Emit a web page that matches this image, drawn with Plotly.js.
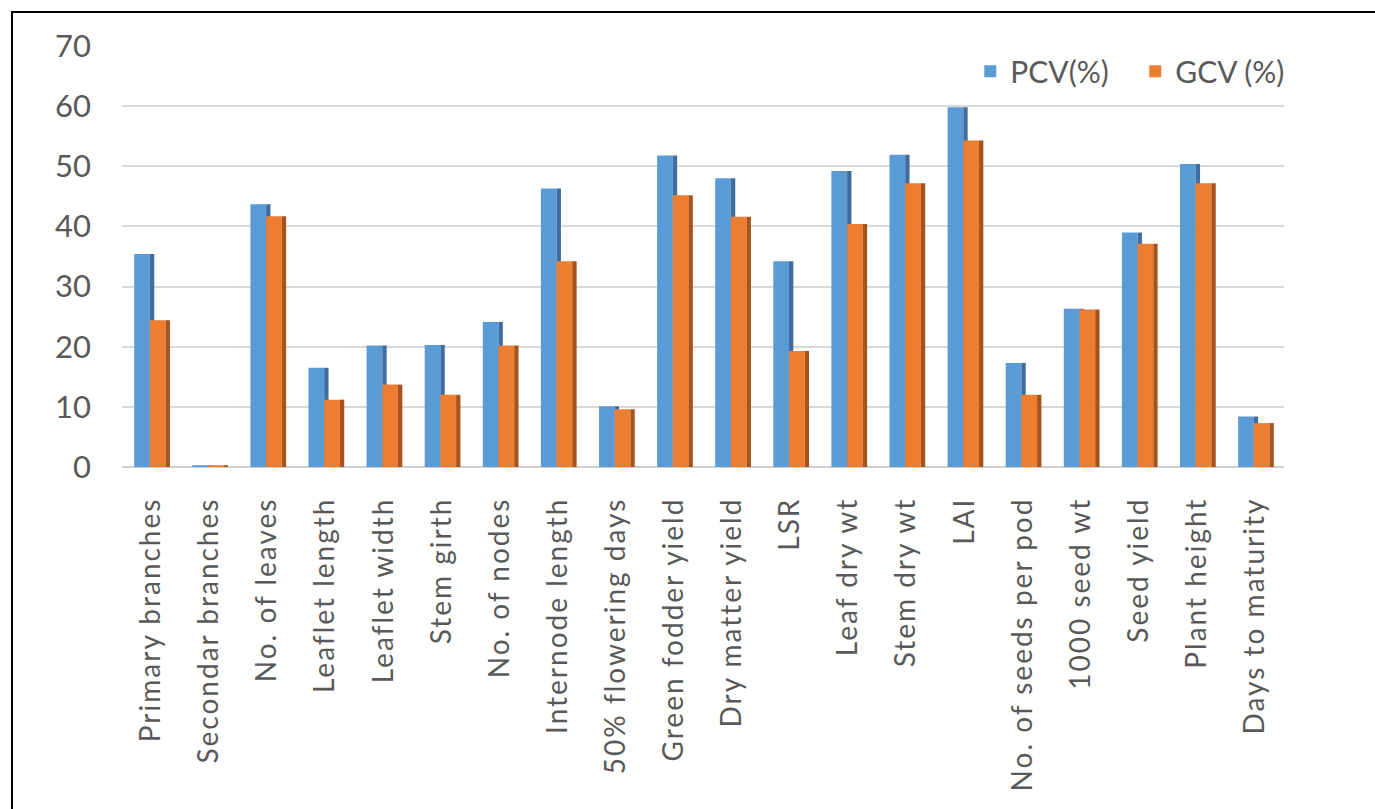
<!DOCTYPE html>
<html>
<head>
<meta charset="utf-8">
<script src="https://cdn.plot.ly/plotly-3.0.1.min.js"></script>
<style>
html,body{margin:0;padding:0;background:#fff;overflow:hidden;}
#frame{position:absolute;left:11px;top:11px;width:1372px;height:810px;border:2px solid #000;box-sizing:border-box;}
#chart{position:absolute;left:0;top:0;width:1375px;height:809px;}
#chart .xtick text{letter-spacing:2px;}
</style>
</head>
<body>
<div id="chart"></div>
<div id="frame"></div>
<script>
const categories = ["Primary branches","Secondar branches","No. of leaves","Leaflet length","Leaflet width","Stem girth","No. of nodes","Internode length","50% flowering days","Green fodder yield","Dry matter yield","LSR","Leaf dry wt","Stem dry wt","LAI","No. of seeds per pod","1000 seed wt","Seed yield","Plant height","Days to maturity"];
const pcv = [35.4,0.3,43.7,16.5,20.2,20.3,24.1,46.3,10.1,51.8,48.0,34.2,49.2,51.9,59.8,17.3,26.3,39.0,50.4,8.4];
const gcv = [24.4,0.3,41.7,11.2,13.7,12.0,20.2,34.2,9.6,45.2,41.6,19.3,40.4,47.2,54.3,12.0,26.2,37.1,47.2,7.3];
const yTicks = [0,10,20,30,40,50,60,70];

const W = 0.27, S = 0.075;
const traces = [
  {type:'bar', x:categories, y:pcv, name:'PCV(%)', marker:{color:'#5B9BD5'}, offset:-0.29, width:W},
  {type:'bar', x:categories, y:pcv, showlegend:false, marker:{color:'#3F6E9E'}, offset:-0.29+W, width:S},
  {type:'bar', x:categories, y:gcv, name:'GCV (%)', marker:{color:'#ED7D31'}, offset:-0.02, width:W},
  {type:'bar', x:categories, y:gcv, showlegend:false, marker:{color:'#A9531C'}, offset:-0.02+W, width:S}
];
const layout = {
  width:1375, height:809,
  paper_bgcolor:'#fff', plot_bgcolor:'#fff',
  margin:{l:122, r:91, t:46, b:342},
  barmode:'overlay',
  hovermode:false,
  font:{family:'Lato, "Open Sans", sans-serif', color:'#595959'},
  xaxis:{type:'category', tickangle:-90, tickfont:{size:28, color:'#595959'}, showgrid:false, zeroline:false, showline:false, ticks:'', ticklabelstandoff:24},
  yaxis:{range:[0,70], tickvals:yTicks, tickfont:{size:31, color:'#595959'}, showgrid:true, gridcolor:'#D9D9D9', gridwidth:2, zeroline:true, zerolinecolor:'#D0D0D0', zerolinewidth:2, showline:false, ticks:'', ticklabelstandoff:30},
  legend:{orientation:'h', x:0.73, xanchor:'left', y:0.94, yanchor:'middle', font:{size:30, color:'#595959'}, bgcolor:'rgba(0,0,0,0)', itemwidth:30, entrywidth:120, traceorder:'normal'},
  showlegend:true
};
Plotly.newPlot('chart', traces, layout, {displayModeBar:false, staticPlot:true});
</script>
</body>
</html>
